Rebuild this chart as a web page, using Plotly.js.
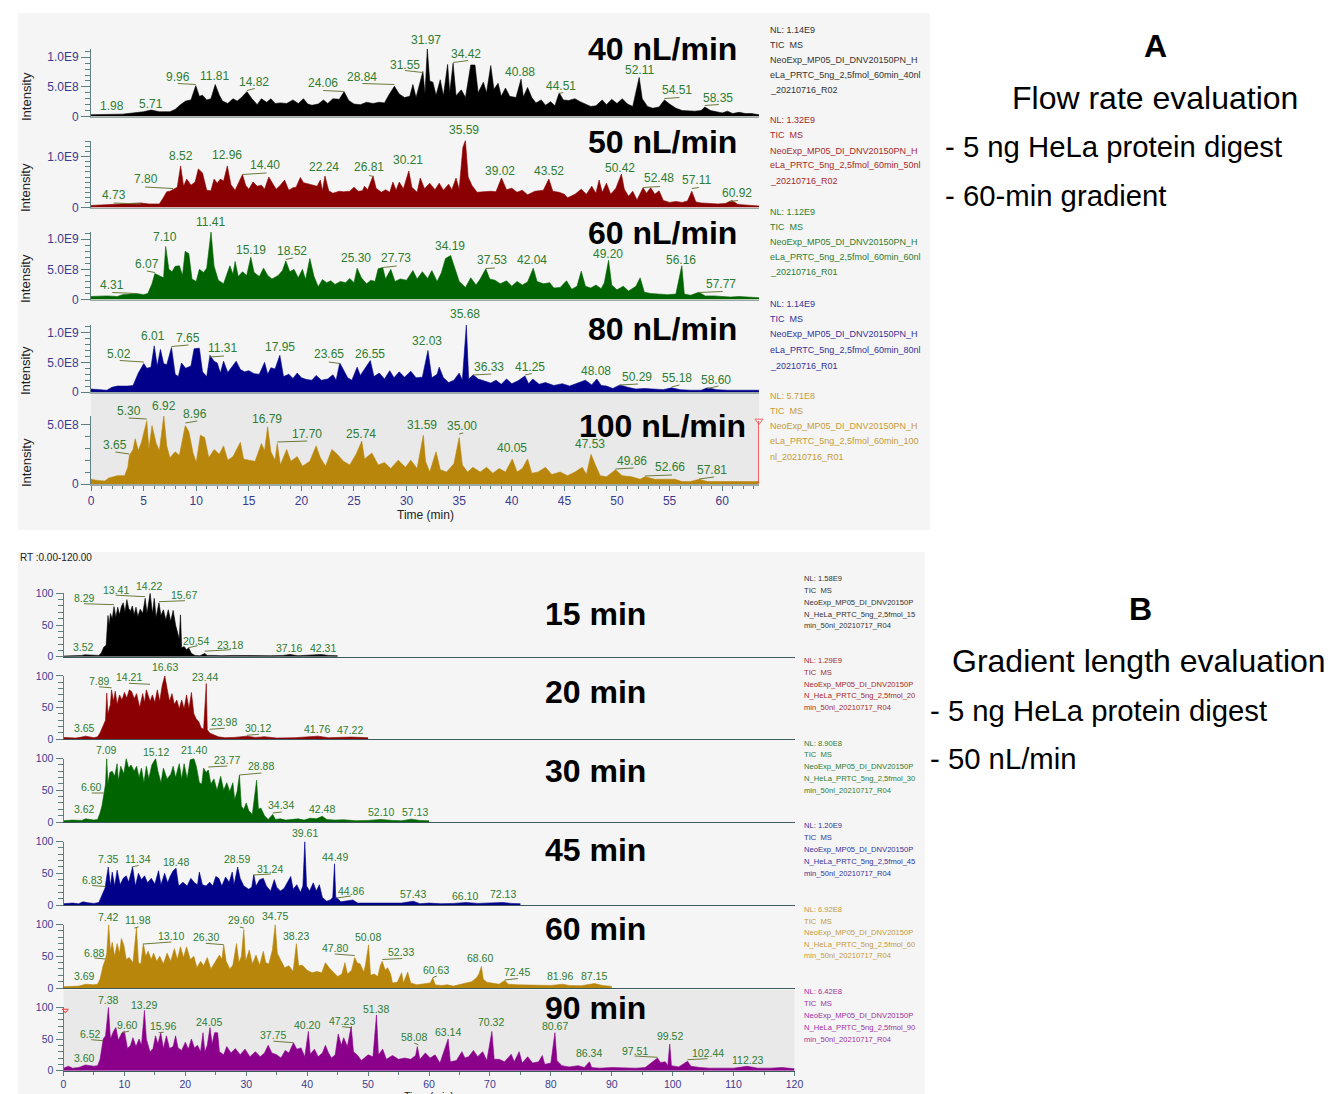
<!DOCTYPE html>
<html>
<head>
<meta charset="utf-8">
<script src="https://cdn.plot.ly/plotly-3.0.1.min.js"></script>
<style>html,body{margin:0;padding:0;background:#fff;overflow:hidden}#c{width:1332px;height:1094px}</style>
</head>
<body>
<div id="c"></div>
<script>
// ---------- DATA: [retention time (min), intensity] ; flow-rate runs in units of 1E8, gradient runs in relative %
const tic40 = [[0,.3],[1.98,.4],[3,.4],[4,.6],[5,.8],[5.71,1.1],[6.5,.8],[7.5,.8],[8,1.2],[8.5,2],[9,2.6],[9.5,2.8],[9.96,5.2],[10.3,3.4],[10.6,3.6],[11,2.8],[11.4,3],[11.81,5.4],[12.2,3.6],[12.5,2.6],[13,2.2],[13.5,3],[13.9,2.6],[14.3,3.2],[14.82,4.2],[15.3,3],[15.8,2],[16.2,3],[16.7,2.4],[17.1,3],[17.5,2.2],[18,2.3],[18.6,2.2],[19.2,2.8],[19.7,2.2],[20.2,3],[20.6,2.1],[21,1.9],[21.6,2.1],[22.1,2.8],[22.5,2.2],[23,3],[23.6,2.9],[24.06,4.2],[24.5,2.7],[25,2.1],[25.6,2],[26.2,2.4],[26.8,2.2],[27.4,2.4],[27.9,2.3],[28.3,3.6],[28.84,5.1],[29.3,3.8],[29.8,3.2],[30.3,3.4],[30.6,5.4],[30.9,3.2],[31.2,5.3],[31.55,7.6],[31.75,3.8],[31.97,11.4],[32.2,6],[32.5,5.8],[32.8,3.6],[33.2,6.2],[33.5,3.5],[33.9,8.8],[34.1,4],[34.42,9],[34.7,3.5],[35.2,4.5],[35.6,3.2],[36.1,8.7],[36.5,8.7],[36.8,4],[37.3,5.8],[37.6,4],[38,8.6],[38.3,4.6],[38.7,5.6],[39,3.4],[39.4,4.8],[39.8,3.4],[40.4,3.2],[40.88,6.3],[41.1,3.3],[41.5,4.9],[41.9,3.2],[42.3,2.3],[42.8,2.8],[43.2,1.9],[43.7,2.5],[44.1,1.8],[44.51,4],[44.9,2.8],[45.4,2.7],[46,3],[46.5,2.5],[47,2.1],[47.5,1.7],[48,1.8],[48.6,2.8],[49,2],[49.5,2.9],[50,2.2],[50.5,3],[51,2.1],[51.5,1.7],[52.11,6.6],[52.4,3],[52.9,1.7],[53.4,1.4],[54,1.6],[54.51,2.8],[55,2.1],[55.6,1.4],[56.2,1],[56.8,.9],[57.4,.9],[58,1],[58.35,1.6],[58.9,1],[59.5,.8],[60,.6],[60.5,.9],[61,.5],[61.6,.7],[62.2,.5],[62.8,.5],[63.5,.3]];
const tic50 = [[0,.4],[2,.6],[3.5,.7],[4.73,.9],[5.5,.7],[6.5,.7],[6.9,2],[7.2,3.1],[7.5,3.2],[7.8,3.6],[8.2,4],[8.52,8.2],[8.8,4.2],[9.1,5.6],[9.5,4.4],[9.9,5],[10.2,7.6],[10.6,6.8],[11,3.4],[11.4,3.3],[11.7,5.6],[12,4.8],[12.3,5.6],[12.6,5.2],[12.96,8.2],[13.3,4.5],[13.7,3.4],[14.2,5.6],[14.4,6.5],[14.7,4.4],[15,3.6],[15.4,5],[15.8,4.2],[16.2,4.4],[16.5,3.6],[16.9,6],[17.2,5],[17.6,3.6],[18,4.4],[18.4,5.4],[18.8,3.4],[19.2,3.9],[19.5,4],[19.9,5.9],[20.2,4.9],[20.8,4.6],[21.2,4.3],[21.5,4.2],[21.8,5.4],[22,3.3],[22.24,6.2],[22.6,3.3],[23,2.8],[23.6,3.2],[24,3.1],[24.6,3.2],[25,4],[25.4,3.2],[25.8,3.3],[26,4.2],[26.3,3.5],[26.81,6.2],[27.1,3.8],[27.6,3],[28,3.5],[28.4,3],[28.7,5],[29,3.4],[29.3,5],[29.7,3.7],[30.21,7.2],[30.5,4],[31,3],[31.3,5.8],[31.7,3.7],[32.2,4.8],[32.7,3.5],[33.1,4.8],[33.5,3.4],[34,4.6],[34.3,3.5],[34.7,5.8],[35,3.6],[35.35,11.8],[35.59,13.2],[35.85,6],[36.2,4.4],[36.7,3],[37.3,3.1],[38,3.2],[38.5,3.1],[39.02,5.8],[39.5,3.5],[40,3.8],[40.5,3],[41,3.4],[41.5,2.5],[42.2,3.2],[43,3.4],[43.52,5.6],[43.9,3.2],[44.5,3],[45,2.6],[45.3,1.9],[46,2.6],[46.6,3.6],[47.1,2.6],[47.6,4.2],[48,2.8],[48.3,5.4],[48.6,3],[49,4.8],[49.4,2.6],[49.9,3.8],[50.42,6.6],[50.7,3.6],[51.1,2.2],[51.5,3.2],[51.9,1.5],[52.48,3.9],[52.8,2.8],[53.2,3.9],[53.6,2.6],[54,3.3],[54.4,1.4],[55,1],[55.6,1.2],[56.2,1],[56.7,1.3],[57.11,3.2],[57.5,1.1],[58,.9],[58.8,.8],[59.6,.7],[60.3,.8],[60.92,1.4],[61.5,.6],[62.2,.5],[63,.5],[63.5,.3]];
const tic60 = [[0,.5],[1.5,.6],[2.5,.5],[3,.8],[4.31,1],[5,.8],[5.4,1],[5.8,2.6],[6.07,4.3],[6.5,4],[6.9,3.6],[7.1,8.8],[7.4,5],[7.7,4.6],[8,5.5],[8.4,5.6],[8.7,4],[8.95,8],[9.3,7.6],[9.6,3.4],[10,3],[10.3,5],[10.7,4.5],[11,5.2],[11.41,11.2],[11.7,5.5],[12.1,3.2],[12.6,2.6],[13,4.6],[13.2,5.6],[13.5,4.2],[13.7,6.3],[14,3.8],[14.4,4.6],[14.8,4],[15.19,7],[15.5,4.5],[16,3.8],[16.4,5.2],[16.8,4],[17.2,3.4],[17.8,4],[18.2,4.8],[18.52,6.4],[18.9,4.6],[19.3,5],[19.7,3.6],[20.1,5],[20.4,3.3],[20.8,6.8],[21.2,3.8],[21.6,2.1],[22,3.3],[22.4,2.8],[22.8,3.1],[23.2,2.5],[23.7,3],[24.2,2.8],[24.6,3.5],[25,2.8],[25.3,5.2],[25.7,3.6],[26.2,2.6],[26.6,3.2],[27,3],[27.3,5.1],[27.73,5.3],[28,3.4],[28.5,5],[28.9,3],[29.4,3.4],[30,3.2],[30.6,4.8],[31,3.4],[31.5,4.6],[32,3.5],[32.4,4.8],[32.9,3],[33.3,4.4],[33.7,6.8],[34.19,7.3],[34.6,5],[35,3],[35.6,2],[36.1,3.6],[36.6,2.4],[37,3.4],[37.53,5.1],[37.9,3.4],[38.4,3.2],[38.9,2.6],[39.5,3.1],[40,2.2],[40.5,3],[41,2.4],[41.5,2.9],[42.04,5.2],[42.4,3],[43,2.6],[43.6,2.8],[44,1.9],[44.6,2],[45.2,3.1],[45.7,1.7],[46.2,2.2],[46.6,4.7],[47,2.2],[47.5,1.9],[48,2.4],[48.5,1.8],[48.8,2.8],[49.2,6.5],[49.5,2.4],[50,1.6],[50.6,2.2],[51.1,1.4],[51.8,2.2],[52.2,3.6],[52.6,1.2],[53.2,1],[54,.9],[54.8,.8],[55.6,.9],[56.16,5.6],[56.4,.9],[57,.7],[57.77,1.2],[58.4,.6],[59.2,.6],[60,.5],[60.8,.4],[61.6,.5],[62.6,.4],[63.5,.3]];
const tic80 = [[0,.5],[1,.4],[1.5,.3],[2,.8],[2.5,1],[3.5,1],[4,1.1],[4.5,3.2],[5.02,4.8],[5.3,4],[5.7,4.2],[6.01,7.8],[6.3,4.4],[6.6,7.2],[6.9,4.8],[7.2,4.6],[7.65,7.5],[8,3],[8.3,2.6],[8.6,4.9],[9,4],[9.5,4.4],[9.8,7.3],[10.3,7.4],[10.6,3.4],[11,2.6],[11.31,6.2],[11.7,5.2],[12,4.9],[12.3,3.2],[12.6,5.2],[13,3.3],[13.5,4.6],[13.8,5.2],[14.2,3.8],[14.6,3.4],[15,3.6],[15.5,3.1],[16,3],[16.5,5],[16.8,3],[17.1,4.1],[17.5,3.9],[17.95,6.2],[18.3,2.6],[18.8,3],[19.2,2.3],[19.6,3.2],[20,2.4],[20.5,2.1],[21,2],[21.4,2.8],[21.9,2],[22.5,2.2],[23,2.9],[23.3,2],[23.65,4.9],[24,3.8],[24.4,2.4],[24.8,2],[25.3,4.2],[25.6,2.8],[26,3.8],[26.55,5.3],[26.9,2.6],[27.4,3.2],[27.9,2.2],[28.4,3.6],[28.8,2.4],[29.3,3.4],[29.8,2.5],[30.4,3.5],[30.9,2.4],[31.5,2.5],[32.03,7],[32.4,2.4],[32.9,3],[33.1,4.2],[33.5,2.4],[34,1.6],[34.5,2],[35,3.2],[35.3,2],[35.68,11.3],[35.9,2.2],[36.33,2.9],[36.8,2.2],[37.5,1.8],[38,1.5],[38.5,2],[39,1.3],[39.5,2.2],[40,1.4],[40.6,1.9],[41.25,2.7],[41.6,1.4],[42,2.2],[42.6,1.3],[43.2,1.6],[44,1.1],[44.8,1.4],[45.5,1],[46.3,1.5],[47,2],[47.6,1.2],[48.08,2.2],[48.5,1.1],[49,1],[49.6,.6],[50.29,1.2],[51,.8],[51.8,.5],[52.6,.6],[53.4,.5],[54.4,.4],[55.18,.7],[56,.4],[57,.3],[58,.3],[58.6,.7],[59.5,.4],[60.5,.3],[61.5,.3],[63.5,.3]];
const tic100 = [[0,.4],[.6,.3],[1.3,.25],[1.7,.5],[2.5,.7],[3.2,.7],[3.5,1.4],[3.65,2.4],[4,2.9],[4.2,3.8],[4.5,2.8],[4.8,3.5],[5.3,5.3],[5.5,2.9],[5.8,4.9],[6.2,3.4],[6.5,2.8],[6.92,5.7],[7.2,3.2],[7.5,2.2],[8,2.7],[8.4,2.4],[8.96,4.9],[9.3,4.4],[9.7,2.6],[10,1.8],[10.4,4.1],[10.8,3.9],[11.2,2.2],[11.7,2.9],[12.2,2.5],[12.6,3.2],[13,2],[13.5,2.3],[14.2,3.5],[14.5,2.1],[15,2],[15.6,1.9],[16.2,3.4],[16.5,2.8],[16.79,4.8],[17.1,2.7],[17.5,2],[17.7,3.4],[18,1.6],[18.6,2.9],[19,1.9],[19.6,2.3],[20.1,1.5],[20.8,1.9],[21.4,3.2],[21.8,2.2],[22.3,1.5],[22.9,2.9],[23.4,2.5],[24,1.9],[24.6,1.6],[25.2,2.5],[25.74,3.6],[26,2.1],[26.7,2.6],[27.3,1.6],[27.9,1.8],[28.5,1.3],[29.2,2],[29.9,1.4],[30.4,2],[31,1.3],[31.59,4.1],[31.8,1.9],[32.2,1],[32.8,2.7],[33.2,1.2],[33.8,1],[34.5,1.7],[35,3.9],[35.3,1.6],[35.8,1],[36.3,1.4],[37,1],[37.6,1.4],[38.2,.9],[38.8,1.3],[39.4,1],[40.05,2.1],[40.5,1],[41,1.3],[41.5,2.1],[41.9,.9],[42.5,1],[43.2,1.4],[43.8,.8],[44.6,1],[45.3,.7],[46,1],[46.7,1.4],[47.1,.8],[47.53,2.5],[47.9,1.7],[48.4,.7],[49,.6],[49.86,1.2],[50.5,.7],[51.4,.6],[52.2,.4],[52.66,.6],[53.6,.4],[54.6,.4],[55.5,.4],[56.2,.2],[57,.2],[57.81,.4],[58.6,.2],[59.6,.2],[60.6,.2],[62,.2],[63.5,.2]];
const gr15 = [[0,1],[2,1.2],[3,2],[3.52,3],[4.5,2.5],[5.2,1.5],[5.8,2],[6.2,6],[6.6,15],[7,18],[7.3,65],[7.5,50],[7.7,68],[8,60],[8.29,79],[8.6,62],[8.9,78],[9.2,66],[9.5,79],[9.8,85],[10.1,70],[10.4,90],[10.7,76],[11,72],[11.3,80],[11.6,66],[11.9,78],[12.2,63],[12.6,75],[13,68],[13.41,92],[13.7,68],[14,86],[14.22,100],[14.6,68],[14.9,92],[15.2,62],[15.67,85],[16,65],[16.4,74],[16.8,58],[17.2,74],[17.6,56],[18,73],[18.4,50],[18.7,38],[19,28],[19.2,66],[19.4,14],[19.8,16],[20.2,11],[20.54,14],[21,5],[21.6,2],[22.4,1.5],[23.18,5],[23.6,2],[24.6,2],[26,1.5],[28,2],[30,1.5],[32,2],[34,1.5],[36,2],[37.16,3.5],[38.5,1.5],[40,2],[42.31,3.5],[43.5,2],[45,1.5]];
const gr20 = [[0,3],[2,2],[3,3.5],[3.65,5],[5,2.5],[5.6,4],[6,10],[6.5,20],[6.9,30],[7.1,73],[7.3,40],[7.7,55],[7.89,78],[8.2,60],[8.5,76],[8.8,55],[9.2,70],[9.6,62],[10,74],[10.4,65],[10.8,78],[11.2,75],[11.6,64],[12,72],[12.5,50],[13,72],[13.3,58],[13.6,78],[14,65],[14.21,60],[14.6,70],[15,58],[15.4,78],[15.8,60],[16.2,85],[16.63,100],[17,80],[17.4,60],[17.8,72],[18.2,55],[18.6,62],[19,48],[19.4,62],[19.8,48],[20.2,70],[20.6,48],[21,74],[21.4,40],[21.8,32],[22.2,28],[22.6,18],[23,16],[23.44,88],[23.6,15],[23.98,10],[24.6,7],[25.4,4],[26.5,2.5],[28,3],[30.12,5],[31.5,3],[33,4],[35,2],[38,2.5],[41.76,5],[43.5,2.5],[47.22,3.5],[50,2.5]];
const gr30 = [[0,2],[1.5,3],[3,2.5],[3.62,5],[5,3],[5.6,4],[6,14],[6.3,25],[6.6,42],[6.9,60],[7.09,100],[7.3,60],[7.6,78],[8,80],[8.4,72],[8.8,92],[9,65],[9.4,88],[9.9,76],[10.3,100],[10.7,85],[11.1,90],[11.6,80],[12,88],[12.4,70],[12.8,85],[13.2,62],[13.6,88],[14,68],[14.5,90],[15.12,100],[15.5,80],[16,62],[16.4,85],[17,68],[17.6,75],[18,88],[18.4,70],[19,92],[19.4,68],[19.8,92],[20.3,68],[20.8,98],[21.4,100],[21.8,88],[22.3,62],[22.7,60],[23,85],[23.4,78],[23.77,82],[24.2,60],[24.7,68],[25.2,50],[25.8,72],[26.3,50],[26.8,62],[27.3,48],[27.8,62],[28.1,35],[28.5,48],[28.88,74],[29.2,25],[29.6,20],[30,30],[30.4,18],[31,12],[31.7,66],[32,20],[32.4,22],[33,10],[33.6,4],[34.34,12],[34.8,4],[35.6,5],[36.5,3],[37.5,4],[38.5,5],[39.5,3],[40.5,6],[41.5,5],[42.48,9],[43.2,4],[44.5,3],[46,3.5],[48,2],[50,2.5],[52.1,4],[54,2.5],[55.5,2],[57.13,4.5],[58.5,2.5],[60,2]];
const gr45 = [[0,2],[1.5,3],[2.5,2],[3.2,5],[4,3.5],[5,2.5],[5.8,4],[6.2,12],[6.83,27],[7.1,45],[7.35,60],[7.7,30],[8,52],[8.4,30],[8.8,55],[9.3,32],[9.8,42],[10.3,46],[10.7,36],[11.34,60],[11.8,30],[12.3,50],[12.8,40],[13.3,46],[13.8,35],[14.4,42],[15,33],[15.6,54],[16,32],[16.6,50],[17.1,35],[17.5,45],[18,54],[18.48,58],[18.9,30],[19.6,36],[20.3,30],[20.9,42],[21.5,35],[22,32],[22.3,52],[22.8,32],[23.4,30],[24,36],[24.5,30],[25,45],[25.5,42],[26,30],[26.6,44],[27.2,36],[27.7,52],[28,32],[28.59,60],[29,42],[29.6,30],[30.4,25],[30.9,28],[31.24,48],[31.6,30],[32.2,40],[32.8,42],[33.3,30],[34,22],[34.6,40],[35,28],[35.6,22],[36.2,26],[37.3,45],[37.7,25],[38.3,32],[38.9,20],[39.3,30],[39.61,100],[39.9,30],[40.4,22],[41,35],[41.5,22],[42,32],[42.5,12],[43.2,6],[43.8,8],[44.2,12],[44.49,65],[44.7,10],[44.86,12],[45.5,5],[46.5,6],[47.5,8],[48.3,3],[50,3],[52,2.5],[54,3],[55.5,3],[57.43,6],[58.5,2],[60,3],[62,2],[64,2.5],[66.1,4],[68,2.5],[70,3],[72.13,4],[73.5,2.5],[75,2]];
const gr60 = [[0,2],[1.5,2.5],[2.5,3],[3.69,6],[5,5],[5.6,6],[6,14],[6.5,35],[6.88,45],[7.1,55],[7.42,100],[7.7,58],[8,72],[8.4,50],[8.8,70],[9.2,55],[9.5,78],[9.9,68],[10.3,45],[10.8,48],[11.4,40],[11.98,95],[12.3,40],[12.7,38],[13.1,70],[13.5,50],[13.9,58],[14.4,45],[14.8,55],[15.3,42],[15.8,50],[16.4,38],[17,55],[17.6,42],[18.2,62],[18.7,45],[19.2,65],[19.7,48],[20.2,65],[20.8,45],[21.4,50],[21.9,32],[22.5,42],[23,35],[23.6,48],[24.2,30],[25,42],[25.6,52],[26,45],[26.3,68],[26.7,42],[27.3,30],[27.8,36],[28.4,70],[28.8,40],[29.2,50],[29.6,92],[29.9,42],[30.5,60],[31,38],[31.6,52],[32.2,36],[32.8,58],[33.2,40],[33.7,38],[34.3,60],[34.75,100],[35.1,55],[35.6,45],[36.3,32],[37,35],[37.7,26],[38.23,70],[38.6,35],[39.2,36],[40,28],[40.8,24],[41.6,26],[42.4,24],[43,40],[43.6,32],[44.3,25],[45,18],[45.7,22],[46.2,40],[46.6,22],[47.3,28],[47.8,48],[48.2,40],[48.7,38],[49.3,25],[49.6,38],[50.08,68],[50.4,20],[51,22],[51.6,18],[52,35],[52.33,42],[52.8,28],[53.2,32],[53.7,22],[54,8],[54.8,9],[55.5,24],[55.8,8],[56.5,25],[57,8],[58,5],[59,6],[60.2,8],[60.63,16],[61,5],[62,4],[63,5],[64,3],[65,5],[66,7],[67,10],[67.8,16],[68.2,22],[68.6,34],[68.9,14],[69.5,9],[70.5,7],[71.5,6],[72.45,12],[73,6],[74.5,5],[76,4.5],[78,3.5],[80,4],[81.96,6],[83,4],[85,3.5],[87.15,7],[88.5,4],[90,2.5]];
const gr90 = [[0,4],[.8,7],[1.5,4],[2.5,5],[3.6,9],[5,7],[5.6,8],[6,18],[6.52,50],[6.9,55],[7.38,100],[7.7,50],[8.2,62],[8.6,68],[9,48],[9.6,60],[10,62],[10.5,35],[11,40],[11.4,52],[11.9,38],[12.4,50],[12.8,40],[13.29,95],[13.6,50],[14.2,30],[14.7,35],[15.1,55],[15.5,42],[15.96,60],[16.4,35],[16.9,55],[17.4,35],[18,38],[18.4,55],[18.8,36],[19.4,32],[20,45],[20.5,34],[21,50],[21.5,36],[22,40],[22.5,30],[22.9,60],[23.2,30],[23.6,40],[24.05,68],[24.4,42],[24.8,60],[25.3,60],[25.6,30],[26.3,25],[26.8,38],[27.5,28],[28.2,35],[29,25],[29.8,34],[30.6,22],[31.5,30],[32.3,22],[33,28],[33.6,40],[34.2,28],[35,25],[35.7,20],[36.4,32],[37,28],[37.75,44],[38.3,34],[39,36],[39.6,22],[40.2,62],[40.5,26],[41.2,34],[41.8,22],[42.5,28],[43,40],[43.5,28],[44,20],[44.6,25],[45.1,58],[45.6,40],[46,52],[46.6,38],[47.23,70],[47.6,30],[48.3,24],[48.9,16],[50,25],[50.8,22],[51.38,88],[51.7,25],[52.4,34],[53,18],[54,24],[55,18],[56,20],[57,18],[57.8,24],[58.08,38],[58.5,18],[59.4,28],[60.2,20],[61,25],[61.8,12],[63.14,50],[63.5,14],[64.5,16],[65.4,30],[65.9,20],[66.5,22],[67.3,32],[68,22],[68.8,30],[69.5,16],[70.32,62],[70.7,18],[71.5,18],[72.4,14],[73.5,26],[74,14],[74.8,30],[75.3,12],[76.2,22],[77,12],[78,14],[78.6,24],[79,10],[80,12],[80.67,60],[81,16],[81.8,8],[83,6],[84.5,8],[85.5,5],[86.34,14],[86.7,5],[88,4],[90,5],[92,4],[94,4],[95.5,5],[96.5,12],[97.51,20],[98,13],[98.8,14],[99.2,8],[99.52,42],[99.8,8],[101,6],[102.44,15],[103,7],[104.5,5],[106,4],[108,4],[110,4],[112.23,7],[114,4],[116,4],[118,5],[120,3]];

// peak-label texts for each run
const peaks40 = ["1.98","5.71","9.96","11.81","14.82","24.06","28.84","31.55","31.97","34.42","40.88","44.51","52.11","54.51","58.35"];
const peaks50 = ["4.73","7.80","8.52","12.96","14.40","22.24","26.81","30.21","35.59","39.02","43.52","50.42","52.48","57.11","60.92"];
const peaks60 = ["4.31","6.07","7.10","11.41","15.19","18.52","25.30","27.73","34.19","37.53","42.04","49.20","56.16","57.77"];
const peaks80 = ["5.02","6.01","7.65","11.31","17.95","23.65","26.55","32.03","35.68","36.33","41.25","48.08","50.29","55.18","58.60"];
const peaks100 = ["3.65","5.30","6.92","8.96","16.79","17.70","25.74","31.59","35.00","40.05","47.53","49.86","52.66","57.81"];
const peaks15 = ["3.52","8.29","13.41","14.22","15.67","20.54","23.18","37.16","42.31"];
const peaks20 = ["3.65","7.89","14.21","16.63","23.44","23.98","30.12","41.76","47.22"];
const peaks30 = ["3.62","6.60","7.09","15.12","21.40","23.77","28.88","34.34","42.48","52.10","57.13"];
const peaks45 = ["6.83","7.35","11.34","18.48","28.59","31.24","39.61","44.49","44.86","57.43","66.10","72.13"];
const peaks60g = ["3.69","6.88","7.42","11.98","13.10","26.30","29.60","34.75","38.23","47.80","50.08","52.33","60.63","68.60","72.45","81.96","87.15"];
const peaks90 = ["3.60","6.52","7.38","9.60","13.29","15.96","24.05","37.75","40.20","47.23","51.38","58.08","63.14","70.32","80.67","86.34","97.51","99.52","102.44","112.23"];

const flowNames = ["40 nL/min","50 nL/min","60 nL/min","80 nL/min","100 nL/min"];
const gradNames = ["15 min","20 min","30 min","45 min","60 min","90 min"];
const flowNL = ["NL: 1.14E9","NL: 1.32E9","NL: 1.12E9","NL: 1.14E9","NL: 5.71E8"];
const gradNL = ["NL: 1.58E9","NL: 1.29E9","NL: 8.90E8","NL: 1.20E9","NL: 6.92E8","NL: 6.42E8"];
const flowTop = [11.4,13.2,11.2,11.4,5.71];
const flowFiles = [["NeoExp_MP05_DI_DNV20150PN_H","eLa_PRTC_5ng_2,5fmol_60min_40nl","_20210716_R02"],["NeoExp_MP05_DI_DNV20150PN_H","eLa_PRTC_5ng_2,5fmol_60min_50nl","_20210716_R02"],["NeoExp_MP05_DI_DNV20150PN_H","eLa_PRTC_5ng_2,5fmol_60min_60nl","_20210716_R01"],["NeoExp_MP05_DI_DNV20150PN_H","eLa_PRTC_5ng_2,5fmol_60min_80nl","_20210716_R01"],["NeoExp_MP05_DI_DNV20150PN_H","eLa_PRTC_5ng_2,5fmol_60min_100","nl_20210716_R01"]];
const gradFiles = ["15","20","30","45","60","90"].map(g=>["NeoExp_MP05_DI_DNV20150P","N_HeLa_PRTC_5ng_2,5fmol_"+g,"min_50nl_20210717_R04"]);

// ---------- PLACEMENT (pixels): label [dx from peak, height above baseline, leader x0, leader h0, leader x1, leader h1]
const place = {
 p40:[[0,11],[0,13],[-18,40,-18,33,0,32],[-1,41],[7,35,0,26,8,28],[-21,34,-21,26,0,25],[-32,40,-32,33,0,32],[-18,52,-18,46,0,44],[-1,77],[13,63,0,54,15,56],[-1,45],[2,31,0,23,4,24],[0,47],[13,27,0,18,15,19],[13,19,0,11,14,12]],
 p50:[[-27,12.5,-27,4.5,0,3.5],[-27,28.5,-28,20.5,0,19],[0,51],[0,52],[23,42,0,33,24,34.5],[-1,40],[-4,40,-4,32,1,31],[-1,47],[-1,77],[-1,36.5],[0,36.5],[-1,39.5],[16,29.5,0,20,17,21],[5,27.5,0,19,7,20],[5,14,-2,6,6,7]],
 p60:[[-24,15,-24,7,0,6],[-8,36,-8,28.5,0,27],[-1,63],[-1,78],[0,50],[6,49,0,40,7,41.5],[-1,42],[13.5,42,0,32,14,33.5],[-1,54],[6,39.5,0,31,9,31.5],[-1,40],[-1,46],[-1,40],[22,16,0,7,24,8]],
 p80:[[-24.5,38.5,-24,31.5,0,30],[-1.5,56],[17,54,0,45.5,17,47],[13,44,0,35,14,36],[0,45],[-11,38,-11,30,0,28.5],[0,38],[-1,51],[-1,78],[16,25,0,17,18,18],[5,25,0,17,7,18.5],[-1,21],[17,15,0,7,18,8],[6,14,0,5,8,7],[9,12,0,3.5,11,6]],
 p100:[[-14,39,-14,32,0,30],[-18,73,-18,66,0,65],[0,78],[10,70,0,61,12,63],[-1,65],[30,50,0,42,30,43],[-1,50],[-1,59],[3,58,0,50,4,51],[0,36],[-1,40],[16,23,0,15,18,16],[25,17,0,8,27,9],[13,14,0,5,15,7]],
 p15:[[-1,10],[-30,59,-30,53,0,52],[-29.5,67,-29.5,61.5,0,60],[-1,71],[25,62,0,55,26,56],[7,16,0,9,9,11],[25,12,0,5.5,26,7],[-1,9],[2,9]],
 p20:[[-1,11],[-12.5,58,-12.5,52.5,0,51.5],[-21,62,-21,56,0,55],[0,72],[-1,62],[14,17,0,10,15,11],[11,11,0,4,12,5],[-1,10],[-1,9]],
 p30:[[-1,13],[-12,35,-12,29,0,29],[0,72],[0,70],[0,72],[19,62,0,55,19,56],[22,56,0,47,22,49],[8,17,0,9,9,10],[0,13],[0,10],[3,10]],
 p45:[[-13,25,-13,19.5,0,18.5],[0,46],[5,46,-1,38,6,39.5],[0,43],[-1,46],[16,36,0,30,17,31],[0,72],[0,48],[14,14,0,7,14,9],[0,11],[-1,9],[0,11]],
 p60g:[[-1,12],[-11,35,-11,30,0,29],[0,71],[2,68,-2,60,2,61],[28,52,0,44,28,46],[-18,51,-18,44.7,0,43.3],[-3,68,-4,61,0,60],[0,72],[0,52],[-20,40,-20,34,0,32.5],[-1,51],[19,36,0,28.5,20,29.5],[3,18,0,10.5,4,12],[-1,30],[12,16,0,8,13,9.5],[-3,12],[0,12]],
 p90:[[-1,13],[-13,37,-12,31,0,30],[0,71],[6,46,0,38,7,39.5],[0,66],[2,45,-2,38,3,38.5],[-1,49],[-20,36,-20,29.5,0,28],[-1,46],[-9,50,-9,44,0,43],[0,62],[-3,34,-3,27.5,1,26],[0,39],[-1,49],[0,45],[0,18],[-23,20,-23,14.7,0,13.4],[0,35],[20,18,0,11,20,12],[0,11]]
};

const NAVY_TXT = "#3b3b8f", AX = "#5f8080", GREEN = "#2e7d32", OLIVE = "#6b7a3a";
const FONT = "Liberation Sans, Arial, sans-serif";
const colors = ["#000000","#8b0000","#006400","#00008b","#b8860b"];
const colorsB = ["#000000","#8b0000","#006400","#00008b","#b8860b","#8b008b"];
const metaColors = ["#333333","#a52a2a","#2e7d32","#33339a","#c79a3a"];
const metaColorsB = ["#333333","#a52a2a","#2e7d32","#33339a","#c79a3a","#a030a0"];

const W = 1332, H = 1094;
const px = x => x / W, py = y => 1 - y / H;

// panel geometry in pixels
const panels = [
 {s:tic40, pk:peaks40, pl:place.p40, c:colors[0], base:116.5, top:49, big:49, ylab:97, tv:[0,5,10], tt:["0","5.0E8","1.0E9"], top_v:flowTop[0]},
 {s:tic50, pk:peaks50, pl:place.p50, c:colors[1], base:207.5, top:140.5, big:142, ylab:188, tv:[0,10], tt:["0","1.0E9"], top_v:flowTop[1]},
 {s:tic60, pk:peaks60, pl:place.p60, c:colors[2], base:299.5, top:232, big:233, ylab:279, tv:[0,5,10], tt:["0","5.0E8","1.0E9"], top_v:flowTop[2]},
 {s:tic80, pk:peaks80, pl:place.p80, c:colors[3], base:392, top:324.5, big:329, ylab:371, tv:[0,5,10], tt:["0","5.0E8","1.0E9"], top_v:flowTop[3]},
 {s:tic100, pk:peaks100, pl:place.p100, c:colors[4], base:484, top:416, big:426, ylab:463, tv:[0,5], tt:["0","5.0E8"], top_v:flowTop[4]}
];
const panelsB = [
 {s:gr15, pk:peaks15, pl:place.p15, base:656.7, big:614},
 {s:gr20, pk:peaks20, pl:place.p20, base:739.3, big:692},
 {s:gr30, pk:peaks30, pl:place.p30, base:822, big:771},
 {s:gr45, pk:peaks45, pl:place.p45, base:905, big:850},
 {s:gr60, pk:peaks60g, pl:place.p60g, base:988, big:929},
 {s:gr90, pk:peaks90, pl:place.p90, base:1070.7, big:1008}
];
const metaYA = [[30,44.5,60,75,89.5],[120,135,151,165,181],[212,227,242,257,272],[304,319,334,350,365.5],[395.5,411,426,441,457]];
const metaYB = [[578,590,602,614,625],[660,672,684,695,707],[743,754,766,778,790],[825,837,849,861,873],[909,921,932,944,956],[991,1003,1015,1027,1039]];

const data = [], annotations = [];
const layout = {
  width:W, height:H, margin:{l:0,r:0,t:0,b:0}, showlegend:false,
  paper_bgcolor:"#ffffff", plot_bgcolor:"rgba(0,0,0,0)", font:{family:FONT},
  hovermode:false, annotations,
  shapes:[
    {type:"rect",xref:"paper",yref:"paper",x0:px(18),x1:px(930),y0:py(530),y1:py(13),fillcolor:"#f5f5f5",line:{width:0},layer:"below"},
    {type:"rect",xref:"paper",yref:"paper",x0:px(18),x1:px(925),y0:py(1094),y1:py(552),fillcolor:"#f5f5f5",line:{width:0},layer:"below"},
    {type:"rect",xref:"paper",yref:"paper",x0:px(91),x1:px(759),y0:py(484),y1:py(393),fillcolor:"#e9e9e9",line:{width:0},layer:"below"},
    {type:"rect",xref:"paper",yref:"paper",x0:px(63.5),x1:px(794.5),y0:py(1071),y1:py(990),fillcolor:"#e9e9e9",line:{width:0},layer:"below"}
  ]
};
const txt = (text,x,y,size,color,anchor,bold,extra) => annotations.push(Object.assign({
  xref:"paper",yref:"paper",x:px(x),y:py(y),text:bold?"<b>"+text+"</b>":text,showarrow:false,
  xanchor:anchor||"center",yanchor:"middle",font:{family:FONT,size,color},borderpad:0,borderwidth:0},extra||{}));

let n = 0;
function addPanel(p, opt) {
  n++;
  const xa = n===1?"x":"x"+n, ya = n===1?"y":"y"+n;
  const xk = n===1?"xaxis":"xaxis"+n, yk = n===1?"yaxis":"yaxis"+n;
  data.push({type:"scatter",mode:"lines",xaxis:xa,yaxis:ya,x:p.s.map(d=>d[0]),y:p.s.map(d=>d[1]),
    fill:"tozeroy",fillcolor:opt.c,line:{color:opt.c,width:0.6},hoverinfo:"skip"});
  layout[xk] = {anchor:ya,domain:[px(opt.x0),px(opt.x1)],range:[0,opt.xmax],showgrid:false,zeroline:false,
    showline:true,linecolor:opt.bl,linewidth:opt.blw,
    showticklabels:!!opt.last,ticks:opt.last?"outside":"",ticklen:opt.xtl,tickcolor:AX,tickwidth:1,
    tickmode:"array",tickvals:opt.xt,ticktext:opt.xt.map(String),
    tickfont:{family:FONT,size:opt.fs,color:NAVY_TXT},
    minor:opt.last?{ticks:"outside",ticklen:3,tickcolor:AX,tickmode:"linear",tick0:0,dtick:opt.xminor,showgrid:false}:undefined};
  layout[yk] = {anchor:xa,domain:[py(p.base),py(opt.top)],range:[0,opt.ytop],showgrid:false,zeroline:false,
    showline:true,linecolor:AX,linewidth:1,ticks:"outside",ticklen:opt.ytl,tickcolor:AX,tickwidth:1,
    tickmode:"array",tickvals:opt.tv,ticktext:opt.tt,tickfont:{family:FONT,size:opt.fs,color:NAVY_TXT},
    minor:{ticks:"outside",ticklen:5,tickcolor:AX,tickmode:"linear",tick0:0,dtick:opt.yminor,showgrid:false}};
  p.pk.forEach((lab,i)=>{
    const t = parseFloat(lab), q = p.pl[i];
    annotations.push({xref:xa,yref:ya,x:t,y:0,text:lab,showarrow:false,xanchor:"center",yanchor:"middle",
      xshift:q[0],yshift:q[1],font:{family:FONT,size:opt.lfs,color:GREEN}});
    if (q.length>2) layout.shapes.push({type:"line",xref:xa,yref:ya,xsizemode:"pixel",ysizemode:"pixel",
      xanchor:t,yanchor:0,x0:q[2],y0:q[3],x1:q[4],y1:q[5],line:{color:OLIVE,width:1}});
  });
}

const xtA = [0,5,10,15,20,25,30,35,40,45,50,55,60];
const xtB = [0,10,20,30,40,50,60,70,80,90,100,110,120];
panels.forEach((p,i)=>{
  addPanel(p,{c:p.c,x0:91,x1:759,xmax:63.5,top:p.top,ytop:p.top_v,tv:p.tv,tt:p.tt,fs:12,lfs:12,yminor:1,xminor:1,
    xt:xtA,bl:"#9aa8a8",blw:1.5,last:i===4,xtl:5,ytl:9});
  txt(flowNames[i],i===4?662:662,p.big,32,"#000000","center",true);
  txt("Intensity",26,p.ylab,13,"#222222","center",false,{textangle:-90});
  const lines=[flowNL[i],"TIC  MS"].concat(flowFiles[i]);
  lines.forEach((l,j)=>txt(l.replace(/ /g,"\u00a0"),770,metaYA[i][j],9,metaColors[i],"left"));
});
panelsB.forEach((p,i)=>{
  addPanel(p,{c:colorsB[i],x0:63.5,x1:794.5,xmax:120,top:p.base-63.4,ytop:100,tv:[0,50,100],tt:["0","50","100"],fs:10.5,lfs:10.5,yminor:10,xminor:5,
    xt:xtB,bl:"#3f5a5a",blw:1,last:i===5,xtl:4,ytl:7});
  txt(gradNames[i],595,p.big,32,"#000000","center",true);
  const lines=[gradNL[i],"TIC  MS"].concat(gradFiles[i]);
  lines.forEach((l,j)=>txt(l.replace(/ /g,"\u00a0"),804,metaYB[i][j],7.6,metaColorsB[i],"left"));
});

// red raw-file markers
data.push({type:"scatter",mode:"lines+markers",xaxis:"x5",yaxis:"y5",x:[63.5,63.5],y:[0,5.3],
  line:{color:"#ff3333",width:1.5},marker:{symbol:["line-ew","triangle-down-open"],size:[1,7],color:"#ff3333"},hoverinfo:"skip",cliponaxis:false});
data.push({type:"scatter",mode:"markers",xaxis:"x11",yaxis:"y11",x:[.3],y:[95],
  marker:{symbol:"triangle-down-open",size:5,color:"#ff3333"},hoverinfo:"skip",cliponaxis:false});

// free text
txt("Time (min)",425,515,12,"#222222");
txt("Time (min)",429,1096,10.5,"#222222");
txt("RT :0.00-120.00",20,557.5,10,"#222222","left");
txt("A",1155,46,32,"#000000","center",true);
txt("Flow rate evaluation",1155,98,32,"#000000");
txt("- 5 ng HeLa protein digest",945,147,29.3,"#000000","left");
txt("- 60-min gradient",945,195,29.3,"#000000","left");
txt("B",1140,609,32,"#000000","center",true);
txt("Gradient length evaluation",1139,661,32,"#000000");
txt("- 5 ng HeLa protein digest",930,710,29.3,"#000000","left");
txt("- 50 nL/min",930,758,29.3,"#000000","left");

Plotly.newPlot("c",data,layout,{displayModeBar:false,staticPlot:true});
</script>
</body>
</html>
